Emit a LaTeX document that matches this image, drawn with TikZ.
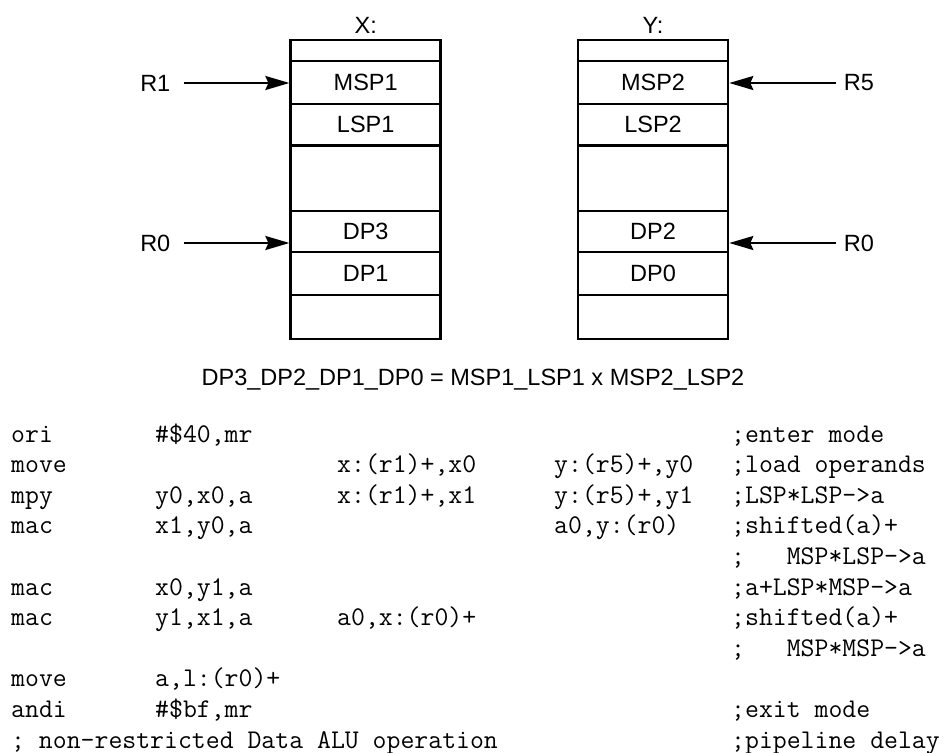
\documentclass[tikz,border=0pt]{standalone}
\usepackage{fontspec}
\setmainfont{Liberation Sans}
\usetikzlibrary{arrows.meta,positioning}

\begin{document}
\begin{tikzpicture}[x=1pt, y=-1pt,
    cell/.style={draw, line width=2.6pt, minimum width=150pt, inner sep=0pt,
                 font=\fontsize{23.5}{28}\selectfont},
    lbl/.style={inner sep=0pt, font=\fontsize{23.5}{28}\selectfont},
    code/.style={anchor=base west, inner sep=0pt,
                 font=\ttfamily\fontsize{27}{32}\selectfont},
    arr/.style={line width=2pt, -{Stealth[length=24pt, width=14pt, inset=3pt]}}
  ]
    \useasboundingbox (0,0) rectangle (946,753);

    % X memory
    \node[lbl] (xname) at (365.7,25) {X:};
    \node[cell, minimum height=21pt]   (xtop) at (365.7,50.5)   {};
    \node[cell, minimum height=43pt]   (msp1) at (365.7,82.5)   {MSP1};
    \node[cell, minimum height=41.5pt] (lsp1) at (365.7,124.75) {LSP1};
    \node[cell, minimum height=65.5pt] (xgap) at (365.7,178.25) {};
    \node[cell, minimum height=41pt]   (dp3)  at (365.7,231.5)  {DP3};
    \node[cell, minimum height=43pt]   (dp1)  at (365.7,273.5)  {DP1};
    \node[cell, minimum height=44pt]   (xbot) at (365.7,317)    {};

    % Y memory
    \node[lbl] (yname) at (653,25) {Y:};
    \node[cell, minimum height=21pt]   (ytop) at (653,50.5)   {};
    \node[cell, minimum height=43pt]   (msp2) at (653,82.5)   {MSP2};
    \node[cell, minimum height=41.5pt] (lsp2) at (653,124.75) {LSP2};
    \node[cell, minimum height=65.5pt] (ygap) at (653,178.25) {};
    \node[cell, minimum height=41pt]   (dp2)  at (653,231.5)  {DP2};
    \node[cell, minimum height=43pt]   (dp0)  at (653,273.5)  {DP0};
    \node[cell, minimum height=44pt]   (ybot) at (653,317)    {};

    % Pointers
    \node[lbl] (r1)  at (155.3,83)  {R1};
    \node[lbl] (r0x) at (155.3,243) {R0};
    \node[lbl] (r5)  at (859,83)    {R5};
    \node[lbl] (r0y) at (859,243)   {R0};
    \draw[arr, shorten <=13pt] (r1.east)  -- (r1.east -| msp1.west);
    \draw[arr, shorten <=13pt] (r0x.east) -- (r0x.east -| dp3.west);
    \draw[arr, shorten <=8pt]  (r5.west)  -- (r5.west -| msp2.east);
    \draw[arr, shorten <=8pt]  (r0y.west) -- (r0y.west -| dp2.east);

    % Product
    \node[lbl] (prod) at (473,380) {DP3\_DP2\_DP1\_DP0 = MSP1\_LSP1 x MSP2\_LSP2};

    % Code listing
    \node[code] (l0a) at (11,442)    {ori};
    \node[code] (l0b) at (155,442)   {\#\$40,mr};
    \node[code] (l0e) at (731,442)   {;enter mode};

    \node[code] (l1a) at (11,472.6)  {move};
    \node[code] (l1c) at (337,472.6) {x:(r1)+,x0};
    \node[code] (l1d) at (554,472.6) {y:(r5)+,y0};
    \node[code] (l1e) at (731,472.6) {;load operands};

    \node[code] (l2a) at (11,503.2)  {mpy};
    \node[code] (l2b) at (155,503.2) {y0,x0,a};
    \node[code] (l2c) at (337,503.2) {x:(r1)+,x1};
    \node[code] (l2d) at (554,503.2) {y:(r5)+,y1};
    \node[code] (l2e) at (731,503.2) {;LSP*LSP->a};

    \node[code] (l3a) at (11,533.8)  {mac};
    \node[code] (l3b) at (155,533.8) {x1,y0,a};
    \node[code] (l3d) at (554,533.8) {a0,y:(r0)};
    \node[code] (l3e) at (731,533.8) {;shifted(a)+};
    \node[code] (l4e) at (731,564.4) {;\ \ \ MSP*LSP->a};

    \node[code] (l5a) at (11,595)    {mac};
    \node[code] (l5b) at (155,595)   {x0,y1,a};
    \node[code] (l5e) at (731,595)   {;a+LSP*MSP->a};

    \node[code] (l6a) at (11,625.6)  {mac};
    \node[code] (l6b) at (155,625.6) {y1,x1,a};
    \node[code] (l6c) at (337,625.6) {a0,x:(r0)+};
    \node[code] (l6e) at (731,625.6) {;shifted(a)+};
    \node[code] (l7e) at (731,656.2) {;\ \ \ MSP*MSP->a};

    \node[code] (l8a) at (11,686.8)  {move};
    \node[code] (l8b) at (155,686.8) {a,l:(r0)+};

    \node[code] (l9a) at (11,717.4)  {andi};
    \node[code] (l9b) at (155,717.4) {\#\$bf,mr};
    \node[code] (l9e) at (731,717.4) {;exit mode};

    \node[code] (l10a) at (11,748)   {; non-restricted Data ALU operation};
    \node[code] (l10e) at (731,748)  {;pipeline delay};
  \end{tikzpicture}
\end{document}
